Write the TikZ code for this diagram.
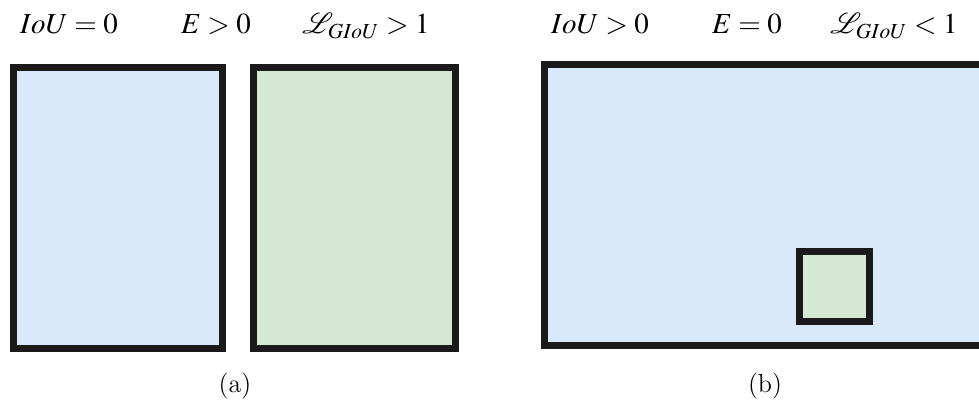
\documentclass[tikz,border=0pt]{standalone}
\usepackage{mathptmx}
\usetikzlibrary{positioning}
\definecolor{bfill}{HTML}{DAE8FC}
\definecolor{gfill}{HTML}{D5E8D4}
\definecolor{edge}{HTML}{1A1A1A}
\tikzset{
  boxa/.style={draw=edge, line width=3.5pt, rectangle, inner sep=0pt},
  lbl/.style={inner sep=0pt, anchor=base, font=\fontsize{14.5}{17}\selectfont},
  captxt/.style={inner sep=0pt, font=\fontsize{13}{15}\selectfont}
}
\begin{document}
\begin{tikzpicture}[x=0.5pt, y=-0.5pt]
\useasboundingbox (0,0) rectangle (979,400);
\clip (0,0) rectangle (979,400);
% (a)
\node[boxa, fill=bfill, minimum width=104.5pt, minimum height=140.25pt] (a1) at (118,208.25) {};
\node[boxa, fill=gfill, minimum width=101pt, minimum height=140.25pt] (a2) at (354.5,208.25) {};
% (b)
\node[boxa, fill=bfill, minimum width=225pt, minimum height=140.5pt] (b1) at (769.5,205) {};
\node[boxa, fill=gfill, minimum width=35pt, minimum height=35pt] (b2) at (834.5,286.5) {};
% labels
\node[lbl] (t1) at (69,34) {$IoU=0$};
\node[lbl] (t2) at (216,34) {$E>0$};
\node[lbl] (t3) at (366,34) {$\mathcal{L}_{GIoU}>1$};
\node[lbl] (t4) at (600,34) {$IoU>0$};
\node[lbl] (t5) at (747,34) {$E=0$};
\node[lbl] (t6) at (894,34) {$\mathcal{L}_{GIoU}<1$};
\node[captxt] (ca) at (235,386) {(a)};
\node[captxt] (cb) at (765,386) {(b)};
\end{tikzpicture}
\end{document}
